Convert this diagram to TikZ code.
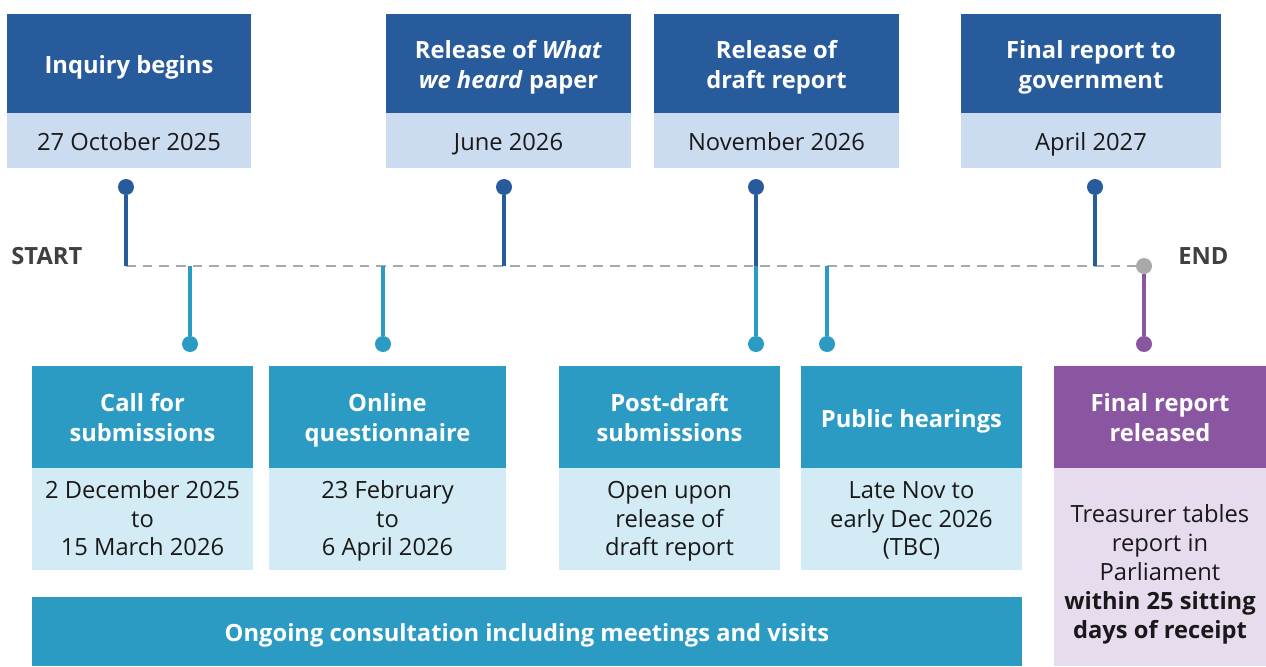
\documentclass[tikz,border=0pt]{standalone}
\usepackage{fontspec}
\setmainfont{Open Sans}
\usepackage{tikz}
\usetikzlibrary{positioning}

\definecolor{navyhead}{HTML}{275B9B}
\definecolor{navyband}{HTML}{CBDCF1}
\definecolor{tealhead}{HTML}{2B9BC4}
\definecolor{tealband}{HTML}{D3EBF5}
\definecolor{plumhead}{HTML}{8A56A1}
\definecolor{plumband}{HTML}{E6DCEE}
\definecolor{lineGrey}{HTML}{A9A9A9}
\definecolor{labelGrey}{HTML}{404040}

\tikzset{
	lift/.style={execute at begin node={\rule{0pt}{#1}}},
	txt/.style={align=center, inner sep=0pt, lift=15.5pt, execute at end node={\rule[-4pt]{0pt}{4pt}}},
	box/.style n args={3}{txt, rectangle, fill=#1, minimum width=#2*0.02cm, minimum height=#3*0.02cm},
	head/.style n args={3}{box={#1}{#2}{#3}, text=white, font=\fontsize{13.5}{17}\selectfont\bfseries},
	band/.style n args={3}{box={#1}{#2}{#3}, text=black!90, font=\fontsize{13.5}{16.4}\selectfont},
	pin/.style={circle, fill=#1, minimum size=0.32cm, inner sep=0pt},
	stem/.style={draw=#1, line width=2.3pt},
	timeline/.style={draw=lineGrey, line width=1.4pt, dash pattern=on 5.5pt off 4pt},
	endlabel/.style={font=\fontsize{13.5}{15}\selectfont\bfseries, text=labelGrey, inner sep=0pt}
}

\begin{document}
\begin{tikzpicture}[x=0.02cm, y=-0.02cm]
		
		\useasboundingbox (0,0) rectangle (1266,666);
		
		% Top milestones
		\node[head={navyhead}{244}{99}] (inq) at (129,63.5) {Inquiry begins};
		\node[band={navyband}{244}{55}] (inqdate) at (129,140.5) {27 October 2025};
		
		\node[head={navyhead}{245}{99}, lift=32pt] (what) at (508.5,63.5) {Release of \textit{What}\\\textit{we heard} paper};
		\node[band={navyband}{245}{55}] (whatdate) at (508.5,140.5) {June 2026};
		
		\node[head={navyhead}{245}{99}, lift=32pt] (draft) at (776.5,63.5) {Release of\\draft report};
		\node[band={navyband}{245}{55}] (draftdate) at (776.5,140.5) {November 2026};
		
		\node[head={navyhead}{260}{99}, lift=32pt] (final) at (1091,63.5) {Final report to\\government};
		\node[band={navyband}{260}{55}] (finaldate) at (1091,140.5) {April 2027};
		
		% Timeline
		\node[endlabel, anchor=west] (start) at (11,256) {START};
		\node[endlabel, anchor=west] (end) at (1178,256) {END};
		\coordinate (tstart) at (126,266);
		\node[pin=lineGrey] (tend) at (1144,266) {};
		\draw[timeline] (tstart) -- (tend);
		
		% Stems above the line
		\node[pin=navyhead] (pinq) at (126,187) {};
		\node[pin=navyhead] (pwhat) at (504,187) {};
		\node[pin=navyhead] (pdraft) at (756,187) {};
		\node[pin=navyhead] (pfinal) at (1095,187) {};
		\coordinate (tinq) at (126,266);
		\coordinate (twhat) at (504,266);
		\coordinate (tdraft) at (756,266);
		\coordinate (tfinal) at (1095,266);
		\draw[stem=navyhead] (pinq) -- (tinq);
		\draw[stem=navyhead] (pwhat) -- (twhat);
		\draw[stem=navyhead] (pdraft) -- (tdraft);
		\draw[stem=navyhead] (pfinal) -- (tfinal);
		
		% Stems below the line
		\node[pin=tealhead] (psub) at (190,344) {};
		\node[pin=tealhead] (pquest) at (383,344) {};
		\node[pin=tealhead] (ppost) at (756,344) {};
		\node[pin=tealhead] (phear) at (827,344) {};
		\node[pin=plumhead] (prel) at (1144,344) {};
		\coordinate (tsub) at (190,266);
		\coordinate (tquest) at (383,266);
		\coordinate (tpost) at (756,266);
		\coordinate (thear) at (827,266);
		\draw[stem=tealhead] (tsub) -- (psub);
		\draw[stem=tealhead] (tquest) -- (pquest);
		\draw[stem=tealhead] (tpost) -- (ppost);
		\draw[stem=tealhead] (thear) -- (phear);
		\draw[stem=plumhead] (tend) -- (prel);
		
		% Bottom activities
		\node[head={tealhead}{221}{102}, lift=32pt] (sub) at (142.5,417) {Call for\\submissions};
		\node[band={tealband}{221}{102}, lift=46pt] (subdate) at (142.5,519) {2 December 2025\\to\\15 March 2026};
		
		\node[head={tealhead}{237}{102}, lift=32pt] (quest) at (387.5,417) {Online\\questionnaire};
		\node[band={tealband}{237}{102}, lift=46pt] (questdate) at (387.5,519) {23 February\\to\\6 April 2026};
		
		\node[head={tealhead}{221}{102}, lift=32pt] (post) at (669.5,417) {Post-draft\\submissions};
		\node[band={tealband}{221}{102}, lift=46pt] (postdate) at (669.5,519) {Open upon\\release of\\draft report};
		
		\node[head={tealhead}{221}{102}] (hear) at (911.5,417) {Public hearings};
		\node[band={tealband}{221}{102}, lift=46pt] (heardate) at (911.5,519) {Late Nov to\\early Dec 2026\\(TBC)};
		
		\node[head={plumhead}{212}{102}, lift=32pt] (rel) at (1160,417) {Final report\\released};
		\node[band={plumband}{212}{198}, lift=85pt] (reldate) at (1160,567) {Treasurer tables\\report in\\Parliament\\\textbf{within 25 sitting}\\\textbf{days of receipt}};
		
		\node[head={tealhead}{990}{69}] (ongoing) at (527,631.5) {Ongoing consultation including meetings and visits};
		
\end{tikzpicture}
\end{document}
